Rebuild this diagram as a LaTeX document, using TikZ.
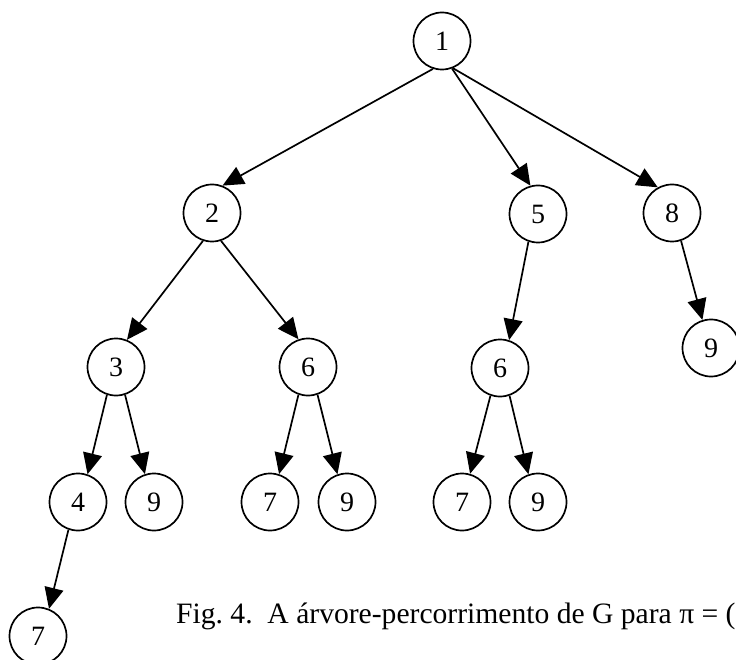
\documentclass[tikz,border=0pt]{standalone}
\usepackage{fontspec}
\setmainfont{Liberation Serif}
\usetikzlibrary{arrows.meta}
\begin{document}
\frenchspacing
\begin{tikzpicture}[x=1pt,y=-1pt,
  vtx/.style={circle,draw,line width=1.7pt,minimum size=57pt,inner sep=0pt,font=\fontsize{28}{32}\selectfont},
  arr/.style={line width=1.7pt,-{Triangle[length=21pt,width=19pt]}},
  caption/.style={anchor=base west,inner sep=0pt,font=\fontsize{29.6}{34}\selectfont}]
\useasboundingbox (0,0) rectangle (736,660);
\clip (0,0) rectangle (736,660);
\node[vtx] (n1) at (442,41) {1};
\node[vtx] (n2) at (212,213) {2};
\node[vtx] (n5) at (538,214) {5};
\node[vtx] (n8) at (672,213) {8};
\node[vtx] (n9r) at (711,348) {9};
\node[vtx] (n3) at (116,367) {3};
\node[vtx] (n6a) at (308,367) {6};
\node[vtx] (n6b) at (500,368) {6};
\node[vtx] (n4) at (78,502) {4};
\node[vtx] (n9a) at (154,502) {9};
\node[vtx] (n7a) at (270,502) {7};
\node[vtx] (n9b) at (347,502) {9};
\node[vtx] (n7b) at (462,502) {7};
\node[vtx] (n9c) at (538,502) {9};
\node[vtx] (n7c) at (38,636) {7};
\draw[arr] (n1.252) -- (n2.69);
\draw[arr] (n1.290) -- (n5.105);
\draw[arr] (n1.292) -- (n8.119);
\draw[arr] (n2.252) -- (n3.68);
\draw[arr] (n2.288) -- (n6a.109);
\draw[arr] (n3.252) -- (n4.71);
\draw[arr] (n3.288) -- (n9a.108);
\draw[arr] (n6a.251) -- (n7a.72);
\draw[arr] (n6a.289) -- (n9b.109);
\draw[arr] (n5.251) -- (n6b.72);
\draw[arr] (n6b.251) -- (n7b.74);
\draw[arr] (n6b.289) -- (n9c.109);
\draw[arr] (n8.288) -- (n9r.107);
\draw[arr] (n4.251) -- (n7c.68);
\node[caption] (cap) at (176,623) {Fig. 4.\ \ A árvore-percorrimento de G para π = (1};
\end{tikzpicture}
\end{document}
